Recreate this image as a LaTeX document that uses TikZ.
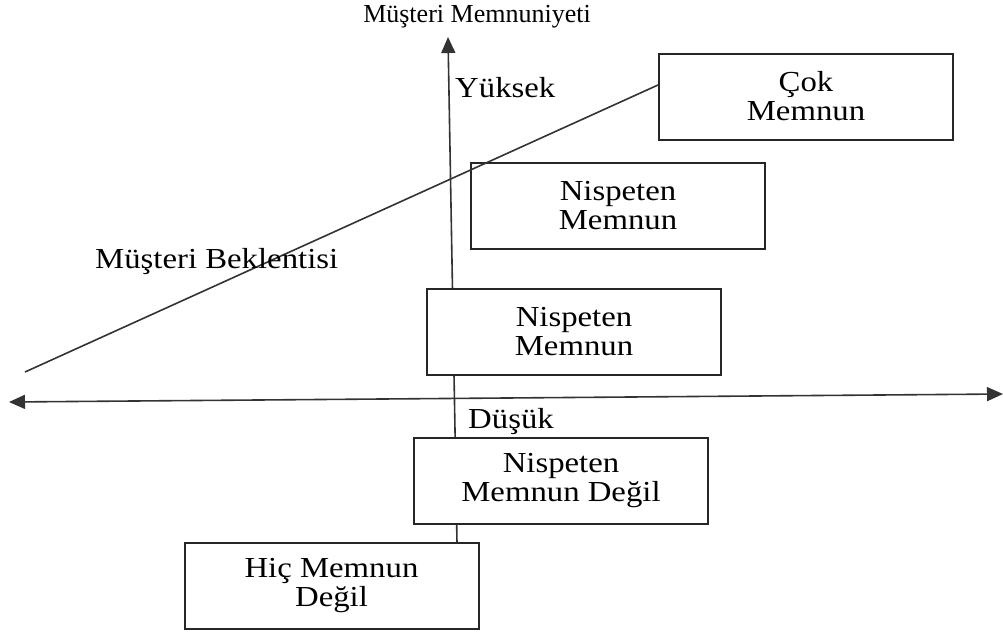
\documentclass[tikz,border=0pt]{standalone}
\usepackage{fontspec}
\setmainfont[FakeStretch=1.13]{Liberation Serif}
\newfontfamily\baslikfont{Liberation Serif}
\usetikzlibrary{arrows.meta}
\tikzset{
	kutu/.style={rectangle,draw=black!85,line width=2pt,fill=white,minimum width=294,minimum height=86,inner sep=0pt,align=center},
	eksen/.style={draw=black!80,line width=1.6pt},
	ucgen/.tip={Triangle[length=16pt,width=14pt]},
	ok/.style={-ucgen}
}
\begin{document}
\begin{tikzpicture}[x=1pt,y=-1pt,auto,inner sep=1mm,font=\fontsize{29}{29}\selectfont]
		\useasboundingbox (0,0) rectangle (1003,632);
		\coordinate (dalt) at (457,543);
		\coordinate (dust) at (448,37);
		\draw [eksen,ok] (dalt) -- (dust);
		\node [kutu] (cok) at (806,96.5) {Çok\\Memnun};
		\node [kutu] (nu) at (618,206) {Nispeten\\Memnun};
		\node [kutu] (no) at (574,332) {Nispeten\\Memnun};
		\node [kutu] (nd) at (561,481) {Nispeten\\Memnun Değil};
		\node [kutu] (hic) at (331.5,586) {Hiç Memnun\\Değil};
%		eksenler
		\coordinate (hsol) at (9,402);
		\coordinate (hsag) at (1003,394);
		\draw [eksen,ucgen-ucgen] (hsol) -- (hsag);
		\coordinate (bek) at (25,372);
		\draw [eksen] (bek) -- (cok.west |- 0,85);
		\node [inner sep=0pt,font=\baslikfont\fontsize{26}{26}\selectfont] (mm) at (477,17) {Müşteri Memnuniyeti};
		\node [anchor=west,inner sep=0pt] (yuk) at (455,88) {Yüksek};
		\node [anchor=west,inner sep=0pt] (dus) at (468,422) {Düşük};
		\node [anchor=west,inner sep=0pt] (mb) at (95,262) {Müşteri Beklentisi};
	\end{tikzpicture}
\end{document}
